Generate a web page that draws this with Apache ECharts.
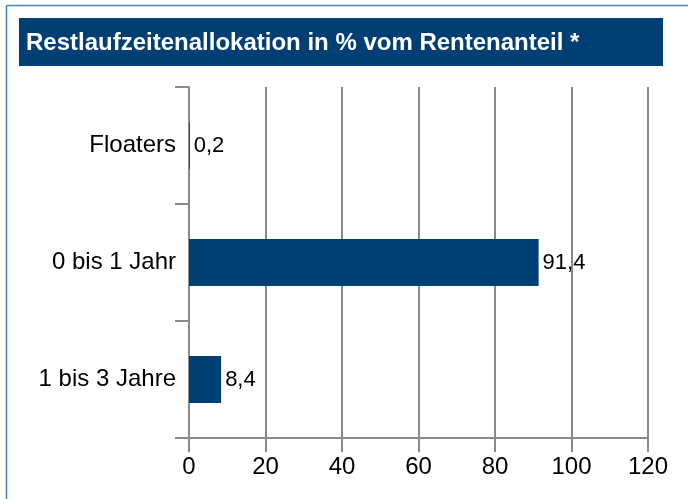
<!DOCTYPE html>
<html>
<head>
<meta charset="utf-8">
<script src="https://cdn.jsdelivr.net/npm/echarts@6/dist/echarts.min.js"></script>
<style>
  html, body { margin: 0; padding: 0; background: #fff; }
  #chart { width: 688px; height: 499px; }
</style>
</head>
<body>
<div id="chart"></div>
<script>
// Daten aus der Grafik
const categories = ['Floaters', '0 bis 1 Jahr', '1 bis 3 Jahre']
const values = [0.2, 91.4, 8.4]
const titleText = 'Restlaufzeitenallokation in % vom Rentenanteil *'

const gray = '#8a8a8a'
const navy = '#003f74'

const myChart = echarts.init(document.getElementById('chart'))

const option = {
    animation: false,
    textStyle: { fontFamily: '"Liberation Sans", Arial, sans-serif' },
    graphic: [
        // Rahmen links/oben
        {
            type: 'line',
            shape: { x1: 6.5, y1: 5.5, x2: 688, y2: 5.5 },
            style: { stroke: '#4d7eae', lineWidth: 1.5 }
        },
        {
            type: 'line',
            shape: { x1: 6.5, y1: 5.5, x2: 6.5, y2: 499 },
            style: { stroke: '#4d7eae', lineWidth: 1.5 }
        },
        {
            type: 'rect',
            shape: { x: 19, y: 18, width: 644, height: 48 },
            style: { fill: navy }
        },
        {
            type: 'text',
            x: 26,
            y: 43,
            style: {
                text: titleText,
                fill: '#fff',
                font: 'bold 24px "Liberation Sans", Arial, sans-serif',
                verticalAlign: 'middle'
            }
        }
    ],
    grid: {
        left: 189,
        right: 40,
        top: 87,
        bottom: 61,
        containLabel: false
    },
    xAxis: {
        type: 'value',
        min: 0,
        max: 120,
        interval: 20,
        axisLine: { show: true, lineStyle: { color: gray, width: 2 } },
        axisTick: { show: true, length: 14, lineStyle: { color: gray, width: 2 } },
        axisLabel: { color: '#000', fontSize: 24, margin: 17 },
        splitLine: { show: true, lineStyle: { color: gray, width: 2 } }
    },
    yAxis: {
        type: 'category',
        inverse: true,
        data: categories,
        axisLine: { show: true, lineStyle: { color: gray, width: 2 } },
        axisTick: { show: true, length: 14, lineStyle: { color: gray, width: 2 } },
        axisLabel: { color: '#000', fontSize: 24, margin: 13 },
        splitLine: { show: false }
    },
    series: [
        {
            type: 'bar',
            data: values,
            barWidth: 47,
            itemStyle: { color: navy },
            label: {
                show: true,
                position: 'right',
                distance: 4,
                color: '#000',
                fontSize: 22,
                formatter: p => String(p.value).replace('.', ',')
            }
        }
    ]
}
option && myChart.setOption(option)
</script>
</body>
</html>
